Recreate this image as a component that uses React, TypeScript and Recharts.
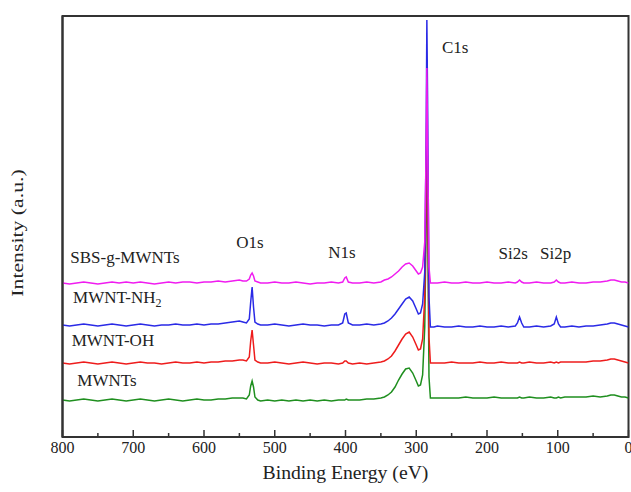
import React from 'react';
import { LineChart, Line, XAxis, YAxis, ReferenceDot, ReferenceArea } from 'recharts';

const FONT = "'Liberation Serif', 'Times New Roman', Times, serif";

// Binding energy (eV)
const energies = [
  800, 790, 780, 770, 760, 750, 740, 730, 720, 710, 700, 690, 680, 670, 660, 650, 640, 630, 620, 610,
  600, 590, 580, 570, 560, 550, 545, 540, 536, 534, 532, 530, 528, 524, 520, 510, 500, 490, 480, 470,
  460, 450, 440, 430, 420, 410, 404, 401, 399, 396, 390, 380, 370, 360, 350, 345, 340, 335, 330, 325,
  320, 315, 310, 305, 300, 297, 294, 291, 288, 286, 285, 284, 282, 280, 275, 270, 260, 250, 240, 230,
  220, 210, 200, 190, 180, 170, 160, 157, 154, 151, 148, 140, 130, 120, 110, 105, 102, 99, 96, 90,
  80, 70, 60, 50, 40, 30, 25, 20, 15, 10, 5, 0,
];

// Intensities (a.u., vertically offset spectra)
const sbsGMwnts = [
  154, 153, 154, 155, 154, 153, 154, 155, 154, 155, 154, 155, 154, 153, 154, 155, 154, 155, 155, 154,
  155, 155, 156, 155, 156, 157, 156, 156, 158, 162, 164, 161, 156, 155, 154, 154, 155, 154, 154, 155,
  154, 153, 154, 154, 155, 154, 155, 159, 160, 155, 154, 154, 155, 154, 155, 157, 158, 160, 163, 166,
  170, 173, 174, 171, 166, 163, 164, 170, 195, 290, 369, 300, 170, 154, 154, 154, 155, 154, 154, 155,
  154, 154, 155, 154, 154, 155, 154, 155, 157, 155, 154, 154, 155, 154, 154, 155, 157, 155, 154, 154,
  155, 154, 154, 155, 155, 156, 157, 157, 156, 155, 155, 154,
];
const mwntNh2 = [
  112, 111, 112, 113, 112, 111, 112, 113, 112, 111, 112, 113, 112, 111, 112, 112, 113, 112, 112, 113,
  112, 113, 113, 114, 115, 116, 115, 114, 118, 135, 150, 130, 115, 113, 112, 112, 113, 112, 111, 112,
  113, 112, 112, 111, 112, 112, 114, 123, 124, 114, 112, 112, 113, 112, 113, 114, 116, 119, 123, 128,
  133, 138, 140, 136, 128, 123, 124, 133, 165, 300, 417, 340, 140, 110, 110, 111, 110, 110, 111, 110,
  110, 111, 110, 110, 111, 110, 111, 114, 120, 114, 110, 110, 111, 110, 111, 113, 120, 113, 110, 110,
  111, 110, 111, 111, 112, 113, 114, 114, 113, 112, 111, 110,
];
const mwntOh = [
  74, 73, 74, 75, 74, 73, 74, 75, 74, 73, 74, 75, 74, 74, 73, 74, 75, 74, 74, 75,
  74, 75, 75, 76, 76, 77, 77, 76, 80, 96, 107, 92, 77, 75, 74, 74, 75, 74, 73, 74,
  75, 74, 73, 74, 74, 73, 74, 76, 76, 74, 73, 74, 73, 74, 75, 76, 78, 81, 86, 92,
  98, 103, 105, 100, 92, 87, 88, 98, 140, 250, 330, 260, 100, 74, 74, 74, 74, 75, 74, 74,
  74, 75, 74, 74, 75, 74, 74, 74, 75, 74, 74, 75, 74, 74, 75, 74, 75, 74, 75, 75,
  75, 75, 75, 76, 76, 77, 78, 78, 77, 76, 75, 74,
];
const mwnts = [
  37, 36, 37, 38, 37, 36, 37, 38, 37, 36, 37, 38, 37, 36, 37, 38, 37, 36, 37, 38,
  37, 37, 38, 38, 39, 39, 39, 38, 42, 51, 56, 50, 40, 37, 36, 37, 36, 37, 36, 37,
  36, 37, 36, 37, 36, 37, 37, 37, 38, 37, 37, 37, 38, 38, 39, 40, 42, 45, 50, 57,
  63, 68, 69, 64, 56, 51, 52, 62, 110, 210, 290, 230, 60, 39, 39, 39, 39, 39, 39, 40,
  39, 39, 39, 40, 39, 39, 39, 39, 40, 39, 39, 40, 39, 39, 40, 39, 39, 40, 39, 40,
  40, 40, 40, 41, 40, 41, 42, 42, 41, 40, 40, 39,
];

const xTicks = [800, 750, 700, 650, 600, 550, 500, 450, 400, 350, 300, 250, 200, 150, 100, 50, 0];
const labelledTicks = [800, 700, 600, 500, 400, 300, 200, 100, 0];

const peakLabels = ['C1s', 'O1s', 'N1s', 'Si2s', 'Si2p'];
const peakLabelX = [245, 535, 405, 163, 103];
const peakLabelY = [390, 195, 185, 184, 184];

const sampleLabels = ['SBS-g-MWNTs', 'MWNT-NH', 'MWNT-OH', 'MWNTs'];
const sampleSubscripts = ['', '2', '', ''];
const sampleLabelX = [789, 785, 787, 779];
const sampleLabelY = [180, 140, 97, 57];

const rows = energies.map((e, i) => ({
  e,
  sbs: sbsGMwnts[i],
  nh2: mwntNh2[i],
  oh: mwntOh[i],
  mw: mwnts[i],
}));

const AXIS = '#333';
const TEXT = '#222';
const TICK_GAP = 10;

const XTick = (props: any) => {
  const { x, y, payload } = props;
  const v = Number(payload.value);
  const major = labelledTicks.includes(v);
  const axisY = y - TICK_GAP;
  return (
    <g>
      <line x1={x} x2={x} y1={axisY} y2={axisY - (major ? 7 : 4)} stroke={AXIS} strokeWidth={1.5} />
      {major ? (
        <text x={x} y={y} textAnchor="middle" dominantBaseline="central" fontSize={16} fontFamily={FONT} fill={TEXT}>
          {String(v)}
        </text>
      ) : null}
    </g>
  );
};

const makeLabel = (text: string, anchor: 'middle' | 'start', sub: string) => (p: any) => {
  const vb = p.viewBox || {};
  const x = (vb.x ?? 0) + (vb.width ?? 0) / 2;
  const y = (vb.y ?? 0) + (vb.height ?? 0) / 2;
  return (
    <text x={x} y={y} textAnchor={anchor} dominantBaseline="central" fontSize={17} fontFamily={FONT} fill={TEXT}>
      {text}
      {sub ? (
        <tspan dy={6} fontSize={12}>
          {sub}
        </tspan>
      ) : null}
    </text>
  );
};

const xTitle = (p: any) => {
  const vb = p.viewBox || {};
  return (
    <text x={vb.x + vb.width / 2} y={vb.y + 35} textAnchor="middle" dominantBaseline="central" fontSize={19.7} fontFamily={FONT} fill={TEXT}>
      Binding Energy (eV)
    </text>
  );
};
const yTitle = (p: any) => {
  const vb = p.viewBox || {};
  const x = vb.x + 17;
  const y = vb.y + vb.height / 2 + 6.5;
  return (
    <text
      x={0}
      y={0}
      transform={`translate(${x}, ${y}) rotate(-90) scale(1.28, 1)`}
      textAnchor="middle"
      dominantBaseline="central"
      fontSize={17}
      fontFamily={FONT}
      fill={TEXT}
    >
      Intensity (a.u.)
    </text>
  );
};

export default function App() {
  return (
    <div style={{ position: 'absolute', left: 0, top: 0, width: 631, height: 492, background: '#fff', overflow: 'hidden' }}>
      <style>{'html, body { margin: 0; padding: 0; overflow: hidden; }'}</style>
      <LineChart width={631} height={492} data={rows} margin={{ top: 16, right: 2.5, left: 0.5, bottom: 0 }}>
        <XAxis
          xAxisId="main"
          dataKey="e"
          type="number"
          domain={[0, 800]}
          reversed
          allowDataOverflow
          ticks={xTicks}
          interval={0}
          height={55}
          tickSize={TICK_GAP}
          tickMargin={0}
          tick={XTick}
          tickLine={false}
          axisLine={{ stroke: AXIS, strokeWidth: 2 }}
          label={{ content: xTitle }}
        />
        <YAxis
          yAxisId="left"
          type="number"
          domain={[0, 421]}
          allowDataOverflow
          width={62}
          tick={false}
          tickLine={false}
          axisLine={{ stroke: AXIS, strokeWidth: 2 }}
          label={{ content: yTitle }}
        />
        <ReferenceArea
          xAxisId="main"
          yAxisId="left"
          x1={800}
          x2={0}
          y1={0}
          y2={421}
          fill="none"
          fillOpacity={0}
          stroke={AXIS}
          strokeWidth={2}
        />
        <Line xAxisId="main" yAxisId="left" dataKey="mw" type="linear" stroke="#1f8f1f" strokeWidth={1.5} dot={false} isAnimationActive={false} />
        <Line xAxisId="main" yAxisId="left" dataKey="oh" type="linear" stroke="#ee1c1c" strokeWidth={1.5} dot={false} isAnimationActive={false} />
        <Line xAxisId="main" yAxisId="left" dataKey="nh2" type="linear" stroke="#2a2ae6" strokeWidth={1.5} dot={false} isAnimationActive={false} />
        <Line xAxisId="main" yAxisId="left" dataKey="sbs" type="linear" stroke="#f01cf0" strokeWidth={1.5} dot={false} isAnimationActive={false} />
        {peakLabels.map((t, i) => (
          <ReferenceDot
            key={t}
            xAxisId="main"
            yAxisId="left"
            x={peakLabelX[i]}
            y={peakLabelY[i]}
            r={0}
            fill="none"
            stroke="none"
            label={{ content: makeLabel(t, 'middle', '') }}
          />
        ))}
        {sampleLabels.map((t, i) => (
          <ReferenceDot
            key={t}
            xAxisId="main"
            yAxisId="left"
            x={sampleLabelX[i]}
            y={sampleLabelY[i]}
            r={0}
            fill="none"
            stroke="none"
            label={{ content: makeLabel(t, 'start', sampleSubscripts[i]) }}
          />
        ))}
      </LineChart>
    </div>
  );
}
